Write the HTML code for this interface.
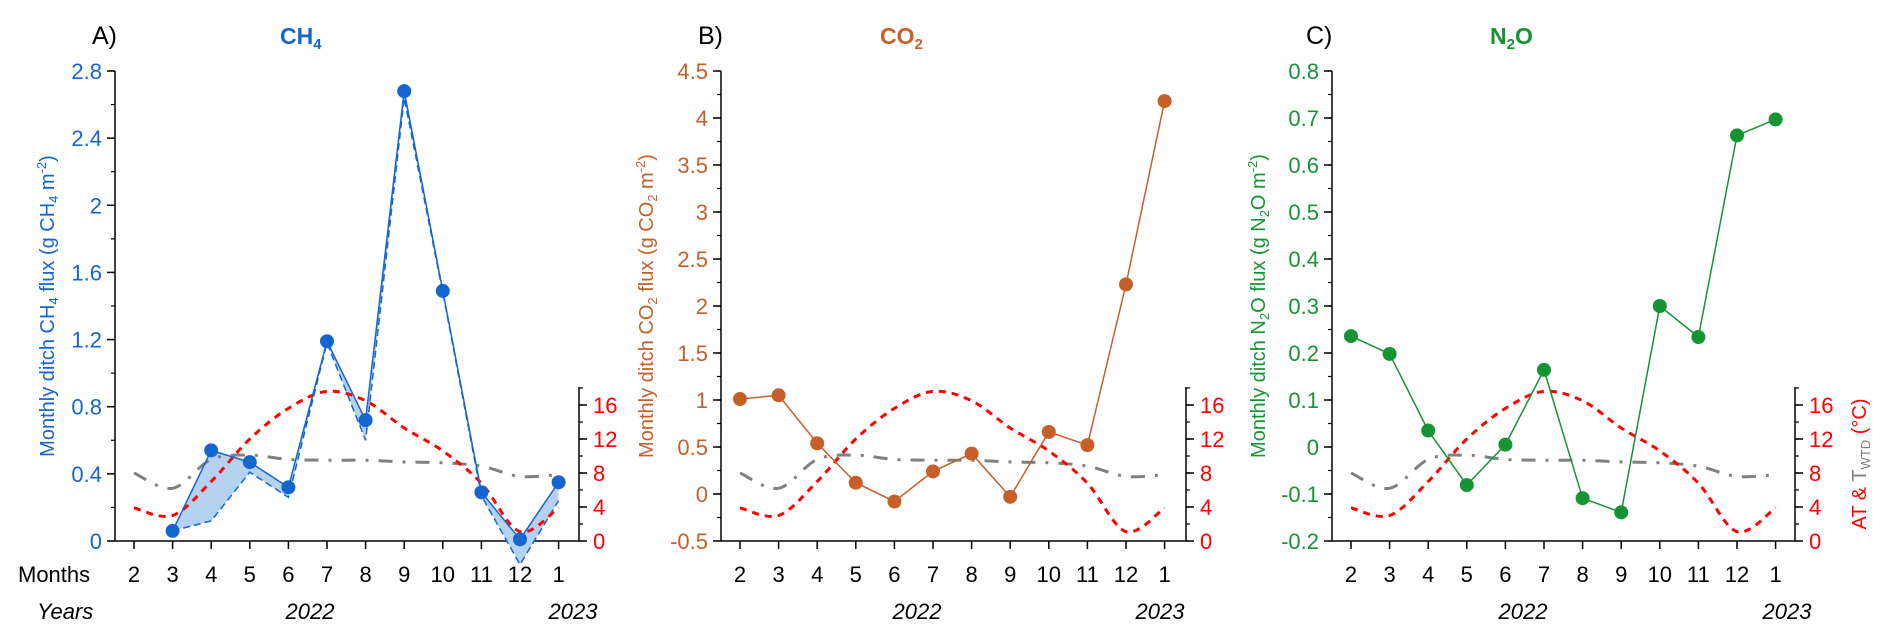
<!DOCTYPE html>
<html><head><meta charset="utf-8"><style>
html,body{margin:0;padding:0;background:#fff;}
svg{display:block;font-family:"Liberation Sans",Arial,sans-serif;}
</style></head><body>
<svg id="chart" width="1892" height="633" viewBox="0 0 1892 633" xmlns="http://www.w3.org/2000/svg"></svg>
<script>
const months = [2,3,4,5,6,7,8,9,10,11,12,1];
const ch4Values = [null,0.06,0.54,0.47,0.32,1.19,0.72,2.68,1.49,0.29,0.01,0.35];
const ch4Lower = [null,0.06,0.12,0.41,0.26,1.18,0.60,2.64,1.48,0.27,-0.14,0.24];
const co2Values = [1.01,1.05,0.54,0.12,-0.08,0.24,0.43,-0.03,0.66,0.52,2.23,4.18];
const n2oValues = [0.236,0.198,0.035,-0.081,0.005,0.164,-0.109,-0.139,0.30,0.234,0.663,0.697];
const airTemp = [3.9,3.0,7.0,12.0,15.6,17.6,16.5,13.3,10.6,6.8,1.1,3.9];
const waterTemp = [8.0,6.2,9.6,10.1,9.6,9.5,9.5,9.3,9.2,8.8,7.6,7.8];
const ch4Ticks = [0,0.4,0.8,1.2,1.6,2,2.4,2.8];
const co2Ticks = [-0.5,0,0.5,1,1.5,2,2.5,3,3.5,4,4.5];
const n2oTicks = [-0.2,-0.1,0,0.1,0.2,0.3,0.4,0.5,0.6,0.7,0.8];
const tempTicks = [0,4,8,12,16];

const svg=document.getElementById('chart');
const NS='http://www.w3.org/2000/svg';
function mk(tag,attrs,parent,text){const e=document.createElementNS(NS,tag);for(const k in attrs)e.setAttribute(k,attrs[k]);if(text!==undefined)e.textContent=text;(parent||svg).appendChild(e);return e;}
const TOP=71,BOT=541,RTOP=387;
function smooth(pts){let d='M'+pts[0][0]+','+pts[0][1];for(let i=0;i<pts.length-1;i++){const p0=pts[Math.max(0,i-1)],p1=pts[i],p2=pts[i+1],p3=pts[Math.min(pts.length-1,i+2)];const c1=[p1[0]+(p2[0]-p0[0])/6,p1[1]+(p2[1]-p0[1])/6],c2=[p2[0]-(p3[0]-p1[0])/6,p2[1]-(p3[1]-p1[1])/6];d+=' C'+c1[0]+','+c1[1]+' '+c2[0]+','+c2[1]+' '+p2[0]+','+p2[1];}return d;}

const panels=[
 {id:'a',ax:115,rx:579,letter:'A)',lx:92,gas:['CH','4'],gx:280,color:'#1565d0',ticks:ch4Ticks,min:0,max:2.8,minor:0.2,dec:1,vals:ch4Values,lower:ch4Lower,ytitle:['Monthly ditch CH','4',' flux (g CH','4',' m','-2',')'],tx:47,y2022:310,y2023:573},
 {id:'b',ax:721,rx:1186,letter:'B)',lx:698,gas:['CO','2'],gx:880,color:'#c65f28',ticks:co2Ticks,min:-0.5,max:4.5,minor:0.25,dec:1,vals:co2Values,ytitle:['Monthly ditch CO','2',' flux (g CO','2',' m','-2',')'],tx:646,y2022:917,y2023:1160},
 {id:'c',ax:1332,rx:1795,letter:'C)',lx:1306,gas:['N','2','O'],gx:1490,color:'#159433',ticks:n2oTicks,min:-0.2,max:0.8,minor:0.05,dec:1,vals:n2oValues,ytitle:['Monthly ditch N','2','O flux (g N','2','O m','-2',')'],tx:1258,y2022:1523,y2023:1787,rtitle:true}
];
panels.forEach(p=>{
 const g=mk('g',{});
 
 
 const x0=p.ax+19, dx=38.6;
 const X=i=>x0+i*dx;
 const Y=v=>BOT-(v-p.min)/(p.max-p.min)*(BOT-TOP);
 const YR=v=>BOT-v/16*(BOT-405);
 // title
 const lt=mk('text',{x:p.lx,y:44,'font-size':25,fill:'#000'},g,p.letter);
 
 const gt=mk('text',{x:p.gx,y:44,'font-size':23,'font-weight':'bold',fill:p.color},g);
 
 p.gas.forEach((s,i)=>{const t=mk('tspan',{},gt,s);if(i===1){t.setAttribute('font-size',15);t.setAttribute('dy',5);}else if(i===2){t.setAttribute('dy',-5);}});
 // axes
 const axl=mk('line',{x1:p.ax,y1:TOP,x2:p.ax,y2:BOT,stroke:'#000','stroke-width':1.5},g);
 
 const axb=mk('line',{x1:p.ax,y1:BOT,x2:p.rx,y2:BOT,stroke:'#000','stroke-width':1.5},g);
 
 const axr=mk('line',{x1:p.rx,y1:RTOP,x2:p.rx,y2:BOT,stroke:'#000','stroke-width':1.5},g);
 
 // left ticks
 for(let v=p.min;v<=p.max+1e-9;v+=p.minor){mk('line',{x1:p.ax-4,y1:Y(v),x2:p.ax,y2:Y(v),stroke:'#000','stroke-width':1.2},g);}
 p.ticks.forEach(v=>{
  mk('line',{x1:p.ax-8,y1:Y(v),x2:p.ax,y2:Y(v),stroke:'#000','stroke-width':1.5},g);
  const t=mk('text',{x:p.ax-13,y:Y(v)+8,'font-size':22,'text-anchor':'end',fill:p.color},g,String(v));
  
 });
 // right ticks
 for(let v=0;v<=18;v+=2){mk('line',{x1:p.rx,y1:YR(v),x2:p.rx+4,y2:YR(v),stroke:'#000','stroke-width':1.2},g);}
 tempTicks.forEach(v=>{
  mk('line',{x1:p.rx,y1:YR(v),x2:p.rx+8,y2:YR(v),stroke:'#000','stroke-width':1.5},g);
  const t=mk('text',{x:p.rx+14,y:YR(v)+8,'font-size':22,fill:'#ff0000'},g,String(v));
  
 });
 // x ticks
 months.forEach((m,i)=>{
  mk('line',{x1:X(i),y1:BOT,x2:X(i),y2:BOT+8,stroke:'#000','stroke-width':1.5},g);
  const t=mk('text',{x:X(i),y:582,'font-size':22,'text-anchor':'middle',fill:'#000'},g,String(m));
  
 });
 const t22=mk('text',{x:p.y2022,y:619,'font-size':22,'font-style':'italic','text-anchor':'middle',fill:'#000'},g,'2022');
 
 const t23=mk('text',{x:p.y2023,y:619,'font-size':22,'font-style':'italic','text-anchor':'middle',fill:'#000'},g,'2023');
 
 // y title
 const yt=mk('text',{x:0,y:0,'font-size':20,'text-anchor':'middle',fill:p.color,transform:'translate('+(p.tx+7)+','+306+') rotate(-90)'},g);
 
 p.ytitle.forEach((s,i)=>{const sub=(s==='2'||s==='4');const sup=s==='-2';const t=mk('tspan',{},yt,s);if(sub){t.setAttribute('font-size',13);t.setAttribute('dy',4);}if(sup){t.setAttribute('font-size',13);t.setAttribute('dy',-8);}
  const prev=p.ytitle[i-1];if(i>0&&(prev==='2'||prev==='4'))t.setAttribute('dy',-4);if(i>0&&prev==='-2')t.setAttribute('dy',8);});
 if(p.rtitle){
  const rt=mk('text',{x:0,y:0,'font-size':20,'text-anchor':'middle',fill:'#ff0000',transform:'translate(1866,464) rotate(-90)'},g);
  
  mk('tspan',{},rt,'AT & ');mk('tspan',{fill:'#808080'},rt,'T');mk('tspan',{fill:'#808080','font-size':13,dy:4},rt,'WTD');mk('tspan',{dy:-4},rt,' (°C)');
 }
 // band (CH4)
 if(p.lower){
  const idx=[];p.vals.forEach((v,i)=>{if(v!==null)idx.push(i);});
  let d='M'+idx.map(i=>X(i)+','+Y(p.vals[i])).join(' L')+' L'+idx.slice().reverse().map(i=>X(i)+','+Y(p.lower[i])).join(' L')+' Z';
  const band=mk('path',{d:d,fill:'#b5d3f0',stroke:'none'},g);
  
  const lw=mk('path',{d:'M'+idx.map(i=>X(i)+','+Y(p.lower[i])).join(' L'),fill:'none',stroke:p.color,'stroke-width':1.5,'stroke-dasharray':'7,4'},g);
  
 }
 // temperature curves
 const wt=mk('path',{d:smooth(waterTemp.map((v,i)=>[X(i),YR(v)])),fill:'none',stroke:'#808080','stroke-width':3,'stroke-dasharray':'14,10,3,10'},g);
 
 const at=mk('path',{d:smooth(airTemp.map((v,i)=>[X(i),YR(v)])),fill:'none',stroke:'#ff0000','stroke-width':3,'stroke-dasharray':'7,6'},g);
 
 // flux
 const idx=[];p.vals.forEach((v,i)=>{if(v!==null)idx.push(i);});
 const fl=mk('path',{d:'M'+idx.map(i=>X(i)+','+Y(p.vals[i])).join(' L'),fill:'none',stroke:p.color,'stroke-width':1.5},g);
 
 idx.forEach(i=>{
  const c=mk('circle',{cx:X(i),cy:Y(p.vals[i]),r:7,fill:p.color},g);
  
 });
});
const ml=mk('text',{x:18,y:582,'font-size':22,fill:'#000'},svg,'Months');

const yl=mk('text',{x:37,y:619,'font-size':22,'font-style':'italic',fill:'#000'},svg,'Years');

</script>
</body></html>
